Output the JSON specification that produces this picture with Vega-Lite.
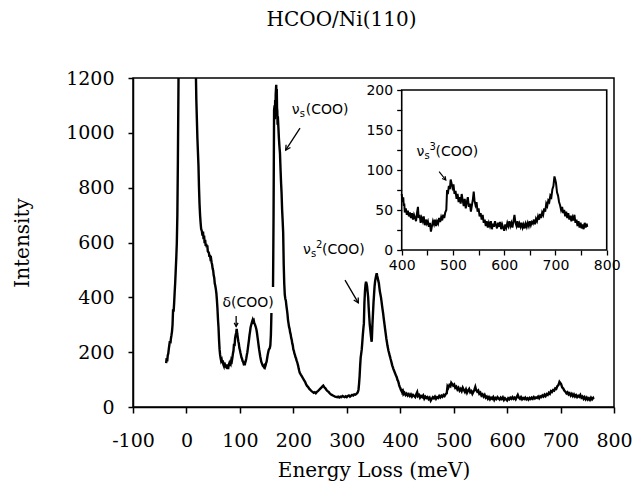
{
  "$schema": "https://vega.github.io/schema/vega-lite/v6.json",
  "width": 481,
  "height": 329,
  "autosize": "none",
  "padding": {"left": 133, "top": 78, "right": 24, "bottom": 81},
  "background": "white",
  "config": {"view": {"stroke": "black", "strokeWidth": 1.5}, "font": "DejaVu Serif"},
  "title": {"text": "HCOO/Ni(110)", "font": "DejaVu Serif", "fontSize": 20, "fontWeight": "normal", "color": "black", "offset": 39, "dx": -32, "anchor": "middle"},
  "datasets": {
    "spec": [
      {"e":-38,"i":160},{"e":-37,"i":178},{"e":-36,"i":166},{"e":-35,"i":188},{"e":-34,"i":195},{"e":-33,"i":212},{"e":-32,"i":226},{"e":-31,"i":240},{"e":-30,"i":232},{"e":-29,"i":250},{"e":-28,"i":262},{"e":-27,"i":276},{"e":-26,"i":300},{"e":-25,"i":356},{"e":-24,"i":348},{"e":-23,"i":380},{"e":-22,"i":420},{"e":-21,"i":455},{"e":-20,"i":500},{"e":-19,"i":545},{"e":-18,"i":598},{"e":-17,"i":700},{"e":-16,"i":900},{"e":-15,"i":1150},{"e":-14.5,"i":1300},{"e":0,"i":3000},{"e":17,"i":1300},{"e":17.8,"i":1200},{"e":18.5,"i":1120},{"e":19.5,"i":1050},{"e":20.5,"i":980},{"e":21.5,"i":930},{"e":22.5,"i":880},{"e":23.5,"i":800},{"e":24.5,"i":740},{"e":25.5,"i":700},{"e":26.5,"i":672},{"e":27.5,"i":650},{"e":29,"i":640},{"e":30,"i":625},{"e":31,"i":640},{"e":32,"i":612},{"e":33,"i":625},{"e":34,"i":598},{"e":35,"i":610},{"e":36,"i":588},{"e":37,"i":595},{"e":38,"i":582},{"e":39,"i":590},{"e":40,"i":568},{"e":42,"i":562},{"e":43,"i":548},{"e":44,"i":555},{"e":45,"i":540},{"e":46,"i":542},{"e":47,"i":528},{"e":48,"i":520},{"e":49,"i":505},{"e":50,"i":498},{"e":51,"i":480},{"e":52,"i":472},{"e":53,"i":450},{"e":54,"i":442},{"e":55,"i":430},{"e":56,"i":415},{"e":57,"i":390},{"e":58,"i":360},{"e":59,"i":320},{"e":60,"i":290},{"e":61,"i":245},{"e":62,"i":210},{"e":63,"i":190},{"e":64,"i":178},{"e":65,"i":168},{"e":66,"i":172},{"e":67,"i":160},{"e":68,"i":170},{"e":69,"i":155},{"e":70,"i":150},{"e":71,"i":162},{"e":72,"i":155},{"e":73,"i":148},{"e":74,"i":146},{"e":75,"i":155},{"e":76,"i":140},{"e":77,"i":150},{"e":78,"i":138},{"e":79,"i":152},{"e":80,"i":158},{"e":81,"i":150},{"e":82,"i":165},{"e":83,"i":160},{"e":84,"i":172},{"e":85,"i":168},{"e":86,"i":180},{"e":87,"i":195},{"e":88,"i":205},{"e":89,"i":230},{"e":90,"i":222},{"e":91,"i":250},{"e":92,"i":262},{"e":93,"i":270},{"e":94,"i":285},{"e":95,"i":268},{"e":96,"i":255},{"e":97,"i":240},{"e":98,"i":232},{"e":99,"i":215},{"e":100,"i":208},{"e":101,"i":198},{"e":102,"i":190},{"e":103,"i":180},{"e":104,"i":176},{"e":105,"i":168},{"e":106,"i":165},{"e":107,"i":158},{"e":108,"i":160},{"e":109,"i":152},{"e":110,"i":162},{"e":111,"i":168},{"e":112,"i":178},{"e":113,"i":190},{"e":114,"i":200},{"e":115,"i":215},{"e":116,"i":230},{"e":117,"i":245},{"e":118,"i":262},{"e":119,"i":275},{"e":120,"i":290},{"e":121,"i":298},{"e":122,"i":305},{"e":123,"i":312},{"e":124,"i":318},{"e":125,"i":312},{"e":126,"i":315},{"e":127,"i":305},{"e":128,"i":302},{"e":129,"i":296},{"e":130,"i":290},{"e":131,"i":282},{"e":132,"i":270},{"e":133,"i":255},{"e":134,"i":240},{"e":135,"i":225},{"e":136,"i":210},{"e":137,"i":198},{"e":138,"i":185},{"e":139,"i":175},{"e":140,"i":165},{"e":141,"i":160},{"e":142,"i":155},{"e":143,"i":150},{"e":144,"i":148},{"e":145,"i":145},{"e":146,"i":150},{"e":147,"i":146},{"e":148,"i":152},{"e":149,"i":160},{"e":150,"i":165},{"e":151,"i":178},{"e":152,"i":190},{"e":153,"i":200},{"e":154,"i":208},{"e":155,"i":212},{"e":156,"i":215},{"e":157,"i":225},{"e":158,"i":262},{"e":158.5,"i":300},{"e":159,"i":343},{"e":160.5,"i":null},{"e":162,"i":438},{"e":162.5,"i":560},{"e":163,"i":700},{"e":163.5,"i":900},{"e":164,"i":1083},{"e":165,"i":1100},{"e":165.5,"i":1050},{"e":166,"i":1120},{"e":166.5,"i":1060},{"e":167,"i":1140},{"e":168,"i":1175},{"e":168.5,"i":1120},{"e":169,"i":1160},{"e":169.5,"i":1090},{"e":170,"i":1080},{"e":170.5,"i":1030},{"e":171,"i":1060},{"e":172,"i":1021},{"e":173,"i":980},{"e":174,"i":950},{"e":175,"i":926},{"e":176,"i":870},{"e":177,"i":820},{"e":178,"i":780},{"e":179,"i":720},{"e":180,"i":680},{"e":181,"i":635},{"e":182,"i":520},{"e":183,"i":450},{"e":184,"i":410},{"e":185,"i":395},{"e":186,"i":388},{"e":187,"i":370},{"e":188,"i":355},{"e":189,"i":340},{"e":190,"i":318},{"e":191,"i":305},{"e":192,"i":292},{"e":193,"i":285},{"e":194,"i":272},{"e":195,"i":265},{"e":196,"i":252},{"e":197,"i":245},{"e":198,"i":232},{"e":199,"i":225},{"e":200,"i":210},{"e":201,"i":205},{"e":202,"i":195},{"e":203,"i":190},{"e":204,"i":182},{"e":205,"i":178},{"e":206,"i":170},{"e":207,"i":165},{"e":208,"i":158},{"e":209,"i":150},{"e":210,"i":140},{"e":211,"i":132},{"e":212,"i":125},{"e":214,"i":118},{"e":216,"i":112},{"e":218,"i":105},{"e":220,"i":98},{"e":222,"i":92},{"e":224,"i":82},{"e":226,"i":76},{"e":228,"i":72},{"e":230,"i":66},{"e":232,"i":62},{"e":234,"i":58},{"e":236,"i":55},{"e":238,"i":52},{"e":240,"i":54},{"e":242,"i":50},{"e":244,"i":55},{"e":246,"i":58},{"e":248,"i":62},{"e":250,"i":66},{"e":252,"i":70},{"e":254,"i":74},{"e":256,"i":78},{"e":258,"i":72},{"e":260,"i":68},{"e":262,"i":62},{"e":264,"i":58},{"e":266,"i":55},{"e":268,"i":50},{"e":270,"i":46},{"e":272,"i":44},{"e":274,"i":42},{"e":276,"i":40},{"e":278,"i":38},{"e":280,"i":37},{"e":282,"i":36},{"e":284,"i":38},{"e":286,"i":35},{"e":288,"i":38},{"e":290,"i":36},{"e":292,"i":40},{"e":294,"i":38},{"e":296,"i":36},{"e":298,"i":39},{"e":300,"i":36},{"e":302,"i":40},{"e":304,"i":42},{"e":306,"i":38},{"e":308,"i":41},{"e":310,"i":44},{"e":312,"i":42},{"e":314,"i":46},{"e":316,"i":45},{"e":318,"i":48},{"e":320,"i":52},{"e":321,"i":56},{"e":322,"i":64},{"e":323,"i":85},{"e":324,"i":112},{"e":325,"i":150},{"e":326,"i":180},{"e":327,"i":195},{"e":328,"i":210},{"e":329,"i":235},{"e":330,"i":262},{"e":331,"i":285},{"e":332,"i":305},{"e":333,"i":380},{"e":334,"i":420},{"e":335,"i":445},{"e":336,"i":457},{"e":337,"i":450},{"e":338,"i":440},{"e":339,"i":420},{"e":340,"i":400},{"e":341,"i":362},{"e":342,"i":330},{"e":343,"i":300},{"e":344,"i":282},{"e":345,"i":262},{"e":346,"i":245},{"e":346.6,"i":238},{"e":347,"i":250},{"e":348,"i":300},{"e":349,"i":340},{"e":350,"i":380},{"e":351,"i":410},{"e":352,"i":440},{"e":353,"i":458},{"e":354,"i":470},{"e":355,"i":480},{"e":356,"i":488},{"e":357,"i":478},{"e":358,"i":470},{"e":359,"i":460},{"e":360,"i":452},{"e":361,"i":435},{"e":362,"i":420},{"e":363,"i":410},{"e":364,"i":400},{"e":365,"i":385},{"e":366,"i":370},{"e":367,"i":355},{"e":368,"i":342},{"e":369,"i":325},{"e":370,"i":310},{"e":371,"i":295},{"e":372,"i":280},{"e":373,"i":265},{"e":374,"i":250},{"e":375,"i":238},{"e":376,"i":225},{"e":377,"i":215},{"e":378,"i":205},{"e":379,"i":198},{"e":380,"i":190},{"e":381,"i":183},{"e":382,"i":175},{"e":383,"i":168},{"e":384,"i":160},{"e":385,"i":152},{"e":386,"i":146},{"e":387,"i":140},{"e":388,"i":135},{"e":389,"i":130},{"e":390,"i":125},{"e":391,"i":120},{"e":392,"i":115},{"e":393,"i":111},{"e":394,"i":105},{"e":395,"i":98},{"e":396,"i":95},{"e":397,"i":88},{"e":398,"i":80},{"e":399,"i":74},
      {"e":400,"i":70},{"e":401,"i":64},{"e":402,"i":60},{"e":403,"i":66},{"e":404,"i":55},{"e":405,"i":58},{"e":406,"i":47},{"e":408,"i":52},{"e":410,"i":44},{"e":412,"i":49},{"e":414,"i":42},{"e":416,"i":47},{"e":418,"i":40},{"e":420,"i":46},{"e":422,"i":38},{"e":424,"i":44},{"e":426,"i":40},{"e":428,"i":36},{"e":430,"i":47},{"e":431.7,"i":54},{"e":433,"i":40},{"e":435,"i":44},{"e":437,"i":34},{"e":439,"i":40},{"e":441,"i":36},{"e":443,"i":42},{"e":445,"i":31},{"e":447,"i":38},{"e":449,"i":33},{"e":451,"i":36},{"e":453,"i":29},{"e":455,"i":34},{"e":457,"i":23},{"e":459,"i":30},{"e":461,"i":36},{"e":463,"i":32},{"e":465,"i":38},{"e":467,"i":30},{"e":469,"i":36},{"e":471,"i":33},{"e":473,"i":40},{"e":475,"i":35},{"e":477,"i":41},{"e":479,"i":37},{"e":481,"i":44},{"e":483,"i":40},{"e":485,"i":47},{"e":487,"i":50},{"e":488.5,"i":75},{"e":490,"i":70},{"e":492,"i":80},{"e":494,"i":76},{"e":495.5,"i":88},{"e":497,"i":84},{"e":499,"i":78},{"e":501,"i":82},{"e":503,"i":70},{"e":505,"i":74},{"e":507,"i":64},{"e":509,"i":70},{"e":511,"i":60},{"e":513,"i":66},{"e":515,"i":58},{"e":517,"i":70},{"e":519,"i":62},{"e":521,"i":55},{"e":523,"i":64},{"e":525,"i":52},{"e":527,"i":60},{"e":529,"i":66},{"e":531,"i":54},{"e":533,"i":58},{"e":535,"i":48},{"e":537,"i":56},{"e":539,"i":64},{"e":540.5,"i":73},{"e":542,"i":62},{"e":544,"i":56},{"e":546,"i":60},{"e":548,"i":48},{"e":550,"i":52},{"e":552,"i":42},{"e":554,"i":46},{"e":556,"i":38},{"e":558,"i":44},{"e":560,"i":34},{"e":562,"i":38},{"e":564,"i":30},{"e":566,"i":36},{"e":568,"i":28},{"e":570,"i":34},{"e":572,"i":30},{"e":574,"i":36},{"e":576,"i":26},{"e":578,"i":33},{"e":580,"i":29},{"e":582,"i":36},{"e":584,"i":31},{"e":586,"i":27},{"e":588,"i":34},{"e":590,"i":29},{"e":592,"i":35},{"e":594,"i":26},{"e":596,"i":32},{"e":598,"i":28},{"e":600,"i":24},{"e":602,"i":32},{"e":604,"i":28},{"e":606,"i":34},{"e":608,"i":30},{"e":610,"i":36},{"e":612,"i":30},{"e":614,"i":34},{"e":616,"i":28},{"e":618,"i":36},{"e":620,"i":44},{"e":622,"i":34},{"e":624,"i":30},{"e":626,"i":36},{"e":628,"i":28},{"e":630,"i":33},{"e":632,"i":29},{"e":634,"i":34},{"e":636,"i":28},{"e":638,"i":32},{"e":640,"i":27},{"e":642,"i":33},{"e":644,"i":29},{"e":646,"i":34},{"e":648,"i":30},{"e":650,"i":36},{"e":652,"i":31},{"e":654,"i":35},{"e":656,"i":33},{"e":658,"i":38},{"e":660,"i":32},{"e":662,"i":39},{"e":664,"i":36},{"e":666,"i":42},{"e":668,"i":38},{"e":670,"i":45},{"e":672,"i":40},{"e":674,"i":47},{"e":676,"i":44},{"e":678,"i":52},{"e":680,"i":48},{"e":682,"i":58},{"e":684,"i":55},{"e":686,"i":62},{"e":688,"i":60},{"e":690,"i":68},{"e":692,"i":66},{"e":694,"i":76},{"e":696,"i":80},{"e":698,"i":92},{"e":699.5,"i":88},{"e":701,"i":84},{"e":703,"i":72},{"e":705,"i":68},{"e":707,"i":60},{"e":709,"i":56},{"e":711,"i":50},{"e":713,"i":54},{"e":715,"i":46},{"e":717,"i":50},{"e":719,"i":42},{"e":721,"i":48},{"e":723,"i":40},{"e":725,"i":46},{"e":727,"i":38},{"e":729,"i":43},{"e":731,"i":36},{"e":733,"i":41},{"e":735,"i":37},{"e":737,"i":44},{"e":739,"i":34},{"e":741,"i":38},{"e":743,"i":30},{"e":745,"i":36},{"e":747,"i":28},{"e":749,"i":34},{"e":751,"i":27},{"e":753,"i":32},{"e":755,"i":26},{"e":757,"i":34},{"e":759,"i":28},{"e":761,"i":33},{"e":762,"i":29}
    ]
  },
  "layer": [
    {
      "layer": [
        {
          "data": {"name": "spec"},
          "mark": {"type": "line", "color": "black", "strokeWidth": 2.4, "clip": true, "invalid": "break-paths-show-domains"},
          "encoding": {
            "x": {"field": "e", "type": "quantitative",
              "scale": {"domain": [-100, 800], "nice": false, "zero": false},
              "axis": {"values": [-100,-50,0,50,100,150,200,250,300,350,400,450,500,550,600,650,700,750,800],
                "labelExpr": "datum.value % 100 === 0 ? '' + datum.value : ''",
                "title": "Energy Loss (meV)", "grid": false, "tickSize": 6, "tickColor": "black", "tickWidth": 1.5,
                "domainColor": "black", "domainWidth": 1.5, "labelFont": "DejaVu Serif", "labelFontSize": 19,
                "labelColor": "black", "labelPadding": 18, "labelFlush": false, "labelOverlap": false,
                "titleFont": "DejaVu Serif", "titleFontSize": 20, "titleFontWeight": "normal", "titleColor": "black", "titlePadding": 10}},
            "y": {"field": "i", "type": "quantitative",
              "scale": {"domain": [0, 1200], "nice": false, "zero": false},
              "axis": {"values": [0,100,200,300,400,500,600,700,800,900,1000,1100,1200],
                "labelExpr": "datum.value % 200 === 0 ? '' + datum.value : ''",
                "title": "Intensity", "grid": false, "tickSize": 5, "tickColor": "black", "tickWidth": 1.5,
                "domainColor": "black", "domainWidth": 1.5, "labelFont": "DejaVu Serif", "labelFontSize": 19,
                "labelColor": "black", "labelPadding": 14, "labelFlush": false, "labelOverlap": false,
                "titleFont": "DejaVu Serif", "titleFontSize": 20, "titleFontWeight": "normal", "titleColor": "black", "titlePadding": 33}}
          }
        },
        {
          "data": {"values": [{}]},
          "mark": {"type": "text", "font": "DejaVu Sans", "fontSize": 14, "color": "black", "align": "left", "baseline": "middle"},
          "encoding": {"x": {"datum": 197}, "y": {"datum": 1083}, "text": {"value": "ν"}}
        },
        {
          "data": {"values": [{}]},
          "mark": {"type": "text", "font": "DejaVu Sans", "fontSize": 10, "color": "black", "align": "left", "baseline": "middle", "dx": 8, "dy": 4},
          "encoding": {"x": {"datum": 197}, "y": {"datum": 1083}, "text": {"value": "s"}}
        },
        {
          "data": {"values": [{}]},
          "mark": {"type": "text", "font": "DejaVu Sans", "fontSize": 14, "color": "black", "align": "left", "baseline": "middle", "dx": 14},
          "encoding": {"x": {"datum": 197}, "y": {"datum": 1083}, "text": {"value": "(COO)"}}
        },
        {
          "data": {"values": [{}]},
          "mark": {"type": "text", "font": "DejaVu Sans", "fontSize": 14, "color": "black", "align": "center", "baseline": "middle"},
          "encoding": {"x": {"datum": 115.5}, "y": {"datum": 378}, "text": {"value": "δ(COO)"}}
        },
        {
          "data": {"values": [{}]},
          "mark": {"type": "text", "font": "DejaVu Sans", "fontSize": 14, "color": "black", "align": "left", "baseline": "middle"},
          "encoding": {"x": {"datum": 218}, "y": {"datum": 571}, "text": {"value": "ν"}}
        },
        {
          "data": {"values": [{}]},
          "mark": {"type": "text", "font": "DejaVu Sans", "fontSize": 10, "color": "black", "align": "left", "baseline": "middle", "dx": 8, "dy": 4},
          "encoding": {"x": {"datum": 218}, "y": {"datum": 571}, "text": {"value": "s"}}
        },
        {
          "data": {"values": [{}]},
          "mark": {"type": "text", "font": "DejaVu Sans", "fontSize": 10, "color": "black", "align": "left", "baseline": "middle", "dx": 13, "dy": -5},
          "encoding": {"x": {"datum": 218}, "y": {"datum": 571}, "text": {"value": "2"}}
        },
        {
          "data": {"values": [{}]},
          "mark": {"type": "text", "font": "DejaVu Sans", "fontSize": 14, "color": "black", "align": "left", "baseline": "middle", "dx": 19},
          "encoding": {"x": {"datum": 218}, "y": {"datum": 571}, "text": {"value": "(COO)"}}
        },
        {
          "data": {"values": [{}]},
          "mark": {"type": "rule", "color": "black", "strokeWidth": 1.3},
          "encoding": {"x": {"datum": 212.5}, "y": {"datum": 1017}, "x2": {"datum": 185.7}, "y2": {"datum": 937}}
        },
        {
          "data": {"values": [{}]},
          "mark": {"type": "point", "shape": "M-0.55,1L0,0L0.55,1", "filled": false, "stroke": "black", "strokeWidth": 1.3, "size": 90, "angle": 213, "opacity": 1},
          "encoding": {"x": {"datum": 185.7}, "y": {"datum": 937}}
        },
        {
          "data": {"values": [{}]},
          "mark": {"type": "rule", "color": "black", "strokeWidth": 1.3},
          "encoding": {"x": {"datum": 93}, "y": {"datum": 332}, "x2": {"datum": 93}, "y2": {"datum": 294}}
        },
        {
          "data": {"values": [{}]},
          "mark": {"type": "point", "shape": "M-0.55,1L0,0L0.55,1", "filled": false, "stroke": "black", "strokeWidth": 1.3, "size": 50, "angle": 180, "opacity": 1},
          "encoding": {"x": {"datum": 93}, "y": {"datum": 294}}
        },
        {
          "data": {"values": [{}]},
          "mark": {"type": "rule", "color": "black", "strokeWidth": 1.3},
          "encoding": {"x": {"datum": 296.7}, "y": {"datum": 463}, "x2": {"datum": 321.6}, "y2": {"datum": 380}}
        },
        {
          "data": {"values": [{}]},
          "mark": {"type": "point", "shape": "M-0.55,1L0,0L0.55,1", "filled": false, "stroke": "black", "strokeWidth": 1.3, "size": 90, "angle": 150, "opacity": 1},
          "encoding": {"x": {"datum": 321.6}, "y": {"datum": 380}}
        }
      ]
    },
    {
      "layer": [
        {
          "data": {"values": [{}]},
          "mark": {"type": "rect", "fill": "white", "stroke": "black", "strokeWidth": 1.6},
          "encoding": {
            "x": {"datum": 400, "type": "quantitative",
              "scale": {"domain": [-124.3, 814.2], "nice": false, "zero": false},
              "axis": {"orient": "bottom", "offset": -157, "values": [400,450,500,550,600,650,700,750,800],
                "labelExpr": "datum.value % 100 === 0 ? '' + datum.value : ''",
                "title": null, "grid": false, "domain": false, "tickSize": 5, "tickColor": "black", "tickWidth": 1.3,
                "labelFont": "DejaVu Sans", "labelFontSize": 14, "labelColor": "black", "labelPadding": 3,
                "labelFlush": false, "labelOverlap": false, "zindex": 2}},
            "x2": {"datum": 800},
            "y": {"datum": 0, "type": "quantitative",
              "scale": {"domain": [-196.25, 215], "nice": false, "zero": false},
              "axis": {"orient": "left", "offset": -268.7, "values": [0,25,50,75,100,125,150,175,200],
                "labelExpr": "datum.value % 50 === 0 ? '' + datum.value : ''",
                "title": null, "grid": false, "domain": false, "tickSize": 5, "tickColor": "black", "tickWidth": 1.3,
                "labelFont": "DejaVu Sans", "labelFontSize": 14, "labelColor": "black", "labelPadding": 4,
                "labelFlush": false, "labelOverlap": false, "zindex": 2}},
            "y2": {"datum": 200}
          }
        },
        {
          "data": {"name": "spec"},
          "transform": [{"filter": "datum.e >= 400"}],
          "mark": {"type": "line", "color": "black", "strokeWidth": 2},
          "encoding": {
            "x": {"field": "e", "type": "quantitative"},
            "y": {"field": "i", "type": "quantitative"}
          }
        },
        {
          "data": {"values": [{}]},
          "mark": {"type": "text", "font": "DejaVu Sans", "fontSize": 14, "color": "black", "align": "left", "baseline": "middle"},
          "encoding": {"x": {"datum": 428.7}, "y": {"datum": 122}, "text": {"value": "ν"}}
        },
        {
          "data": {"values": [{}]},
          "mark": {"type": "text", "font": "DejaVu Sans", "fontSize": 10, "color": "black", "align": "left", "baseline": "middle", "dx": 8, "dy": 4},
          "encoding": {"x": {"datum": 428.7}, "y": {"datum": 122}, "text": {"value": "s"}}
        },
        {
          "data": {"values": [{}]},
          "mark": {"type": "text", "font": "DejaVu Sans", "fontSize": 10, "color": "black", "align": "left", "baseline": "middle", "dx": 13, "dy": -5},
          "encoding": {"x": {"datum": 428.7}, "y": {"datum": 122}, "text": {"value": "3"}}
        },
        {
          "data": {"values": [{}]},
          "mark": {"type": "text", "font": "DejaVu Sans", "fontSize": 14, "color": "black", "align": "left", "baseline": "middle", "dx": 19},
          "encoding": {"x": {"datum": 428.7}, "y": {"datum": 122}, "text": {"value": "(COO)"}}
        },
        {
          "data": {"values": [{}]},
          "mark": {"type": "rule", "color": "black", "strokeWidth": 1.2},
          "encoding": {"x": {"datum": 473}, "y": {"datum": 98}, "x2": {"datum": 486}, "y2": {"datum": 87.5}}
        },
        {
          "data": {"values": [{}]},
          "mark": {"type": "point", "shape": "M-0.55,1L0,0L0.55,1", "filled": false, "stroke": "black", "strokeWidth": 1.2, "size": 50, "angle": 141, "opacity": 1},
          "encoding": {"x": {"datum": 486}, "y": {"datum": 87.5}}
        }
      ]
    }
  ],
  "resolve": {"scale": {"x": "independent", "y": "independent"}, "axis": {"x": "independent", "y": "independent"}}
}
